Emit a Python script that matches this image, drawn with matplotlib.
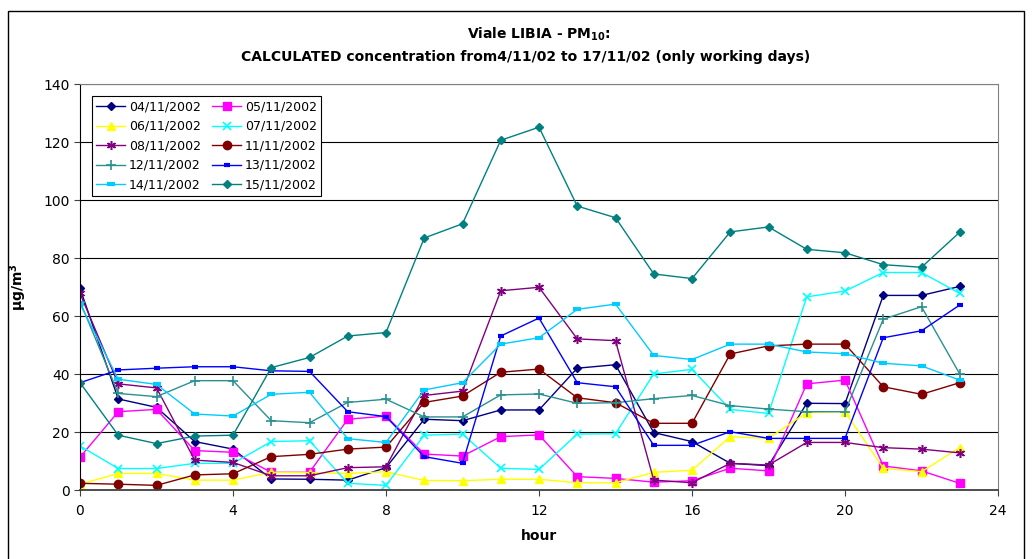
import matplotlib
matplotlib.use("Agg")
import matplotlib.pyplot as plt
from matplotlib.patches import Rectangle

hours = list(range(24))

d04 = [69.5, 31.4, 28.5, 16.7, 14.1, 3.8, 3.7, 3.4, 7.7, 24.4, 23.9, 27.6,
       27.6, 42.0, 43.2, 19.8, 16.7, 9.2, 8.4, 29.9, 29.8, 67.1, 67.1, 70.2]
d05 = [11.3, 27.0, 27.8, 13.6, 13.0, 6.1, 6.1, 24.4, 25.5, 12.4, 11.7, 18.4,
       19.0, 4.6, 4.0, 2.7, 3.2, 7.5, 6.6, 36.6, 37.9, 8.3, 6.6, 2.3]
d06 = [2.0, 5.7, 5.7, 3.4, 3.4, 6.1, 6.0, 5.7, 6.3, 3.3, 3.2, 3.7,
       3.7, 2.5, 2.5, 6.1, 6.8, 18.4, 17.8, 26.7, 27.0, 7.5, 6.3, 14.6]
d07 = [15.2, 7.4, 7.4, 9.2, 9.2, 16.7, 17.0, 2.3, 1.6, 18.9, 19.3, 7.5,
       7.1, 19.3, 19.4, 40.0, 41.6, 27.8, 26.4, 66.6, 68.6, 75.0, 75.0, 67.8]
d08 = [67.8, 36.6, 35.2, 10.3, 9.5, 4.9, 4.9, 7.7, 8.0, 32.6, 34.1, 68.7,
       69.9, 52.1, 51.5, 3.4, 2.5, 9.2, 8.6, 16.4, 16.4, 14.6, 14.1, 12.8]
d11 = [2.3, 2.0, 1.6, 5.2, 5.6, 11.5, 12.3, 14.1, 14.8, 30.2, 32.4, 40.6,
       41.7, 31.8, 30.1, 23.0, 23.0, 46.9, 49.7, 50.3, 50.3, 35.6, 33.0, 37.0]
d12 = [65.0, 33.3, 32.2, 37.7, 37.7, 23.9, 23.2, 30.2, 31.3, 25.2, 25.2, 32.8,
       33.1, 29.9, 30.1, 31.5, 32.6, 29.1, 27.9, 27.0, 27.0, 58.9, 63.2, 40.0]
d13 = [37.0, 41.4, 42.0, 42.5, 42.5, 41.1, 40.9, 27.0, 25.3, 11.5, 9.2, 53.1,
       59.3, 37.0, 35.6, 15.4, 15.4, 20.1, 17.8, 17.8, 17.8, 52.5, 54.9, 63.8]
d14 = [64.2, 38.2, 36.4, 26.2, 25.5, 33.0, 33.7, 17.7, 16.4, 34.5, 37.0, 50.3,
       52.5, 62.3, 64.1, 46.4, 45.0, 50.3, 50.3, 47.6, 47.0, 43.7, 42.8, 37.9]
d15 = [37.0, 18.9, 16.0, 18.6, 18.9, 42.2, 45.7, 53.1, 54.3, 86.9, 91.8, 120.6,
       125.1, 97.9, 93.9, 74.5, 72.9, 89.0, 90.7, 83.0, 81.8, 77.7, 76.8, 88.9]

labels = ["04/11/2002", "05/11/2002", "06/11/2002", "07/11/2002", "08/11/2002",
          "11/11/2002", "12/11/2002", "13/11/2002", "14/11/2002", "15/11/2002"]
series = [d04, d05, d06, d07, d08, d11, d12, d13, d14, d15]

asterisk = (6, 2, 0)
styles = [
    dict(color="#000080", marker="D", ms=4.2),
    dict(color="#FF00FF", marker="s", ms=5.5),
    dict(color="#FFFF00", marker="^", ms=6),
    dict(color="#00FFFF", marker="x", ms=5.5, mew=1.2),
    dict(color="#800080", marker=asterisk, ms=6.5, mew=1.1),
    dict(color="#800000", marker="o", ms=6),
    dict(color="#2A9090", marker="+", ms=7, mew=1.2),
    dict(color="#0000FF", marker="_", ms=4, mew=3),
    dict(color="#00CCFF", marker="_", ms=6, mew=3),
    dict(color="#008080", marker="D", ms=4.2),
]

fig = plt.figure(figsize=(10.32, 5.59), dpi=100)
ax = fig.add_axes([80 / 1032, 1 - 490 / 559, 918 / 1032, 406 / 559])

# outer chart border
fig.patches.append(Rectangle((8 / 1032, -0.05), 1016 / 1032, 1.05 - 11 / 559,
                             transform=fig.transFigure, fill=False,
                             edgecolor="black", linewidth=1.0))

handles = []
for vals, lab, st in zip(series, labels, styles):
    h, = ax.plot(hours, vals, linewidth=1.0, label=lab, **st)
    handles.append(h)

ax.set_xlim(0, 24)
ax.set_ylim(0, 140)
ax.set_xticks(range(0, 25, 4))
ax.set_yticks(range(0, 141, 20))
ax.yaxis.grid(True, color="black", linewidth=0.8)
ax.set_axisbelow(True)
ax.tick_params(axis="both", labelsize=10, direction="out", length=4, color="#404040")
ax.tick_params(axis="x", pad=6)
for side in ("top", "right"):
    ax.spines[side].set_color("#808080")
ax.spines["left"].set_color("black")
ax.spines["bottom"].set_color("#404040")
ax.spines["bottom"].set_linewidth(1.3)

ax.set_xlabel("hour", fontsize=10, fontweight="bold", labelpad=8)
ax.set_ylabel(r"$\mathbf{\mu g/m^3}$", fontsize=10, fontweight="bold", labelpad=10)

fig.text(539 / 1032, 1 - 34 / 559, r"Viale LIBIA - PM$_{\mathbf{10}}$:",
         ha="center", va="center", fontsize=10, fontweight="bold")
fig.text(526 / 1032, 1 - 57 / 559,
         "CALCULATED concentration from4/11/02 to 17/11/02 (only working days)",
         ha="center", va="center", fontsize=10, fontweight="bold")

# legend entries laid out row by row in two columns
order = [0, 2, 4, 6, 8, 1, 3, 5, 7, 9]
leg = ax.legend([handles[i] for i in order], [labels[i] for i in order],
                ncol=2, loc="upper left", bbox_to_anchor=(12 / 918, 1 - 12 / 406),
                borderaxespad=0, fontsize=9, frameon=True, fancybox=False,
                framealpha=1, edgecolor="black", borderpad=0.35,
                handlelength=2.3, labelspacing=0.52, columnspacing=0.9,
                handletextpad=0.3)
leg.get_frame().set_linewidth(0.8)

fig.savefig("out.png", dpi=100)
